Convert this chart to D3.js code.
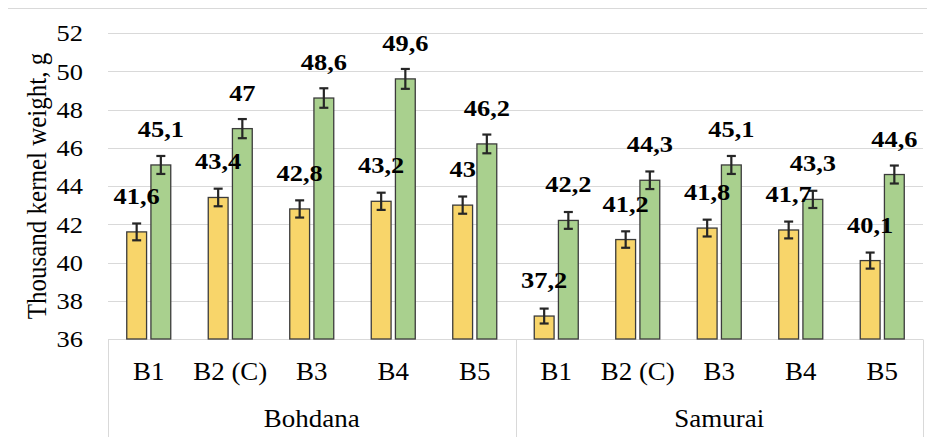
<!DOCTYPE html>
<html>
<head>
<meta charset="utf-8">
<script src="https://cdn.jsdelivr.net/npm/d3@7"></script>
<style>
  html, body { margin: 0; padding: 0; background: #fff; }
  svg { display: block; }
</style>
</head>
<body>
<div id="chart"></div>
<script>
// Chart data
const groups = ['Bohdana', 'Samurai'];
const categories = ['B1', 'B2 (C)', 'B3', 'B4', 'B5'];
const series = ['s1', 's2'];
const colors = ['#f8d56a', '#a9d08e'];

// values per group, in category order
const yellowValues = [[41.6, 43.4, 42.8, 43.2, 43], [37.2, 41.2, 41.8, 41.7, 40.1]];
const greenValues = [[45.1, 47, 48.6, 49.6, 46.2], [42.2, 44.3, 45.1, 43.3, 44.6]];
// error bar half widths (estimated)
const yellowErrors = [[0.44, 0.46, 0.45, 0.45, 0.45], [0.39, 0.43, 0.44, 0.44, 0.42]];
const greenErrors = [[0.47, 0.5, 0.51, 0.52, 0.49], [0.44, 0.46, 0.47, 0.45, 0.47]];

const yTicks = [36, 38, 40, 42, 44, 46, 48, 50, 52];
const yTitle = 'Thousand kernel weight, g';

const FONT = '"Liberation Serif", "Times New Roman", serif';
const SX = 1.1; // the picture is a bit wider than tall

const width = 927, height = 437;
const margin = { top: 33, right: 4, bottom: 98, left: 108 };
const plotW = width - margin.left - margin.right;
const plotH = height - margin.top - margin.bottom;

// flat rows for drawing
const rows = [];
groups.forEach((grp, gi) => {
  categories.forEach((cat, ci) => {
    rows.push({
      key: grp + '|' + cat, group: grp, cat: cat,
      vals: [yellowValues[gi][ci], greenValues[gi][ci]],
      errs: [yellowErrors[gi][ci], greenErrors[gi][ci]]
    });
  });
});

const svg = d3.select('#chart').append('svg')
  .attr('width', width)
  .attr('height', height)
  .style('font-family', FONT);

// outer chart border (top edge visible)
svg.append('line')
  .attr('x1', 8).attr('x2', width).attr('y1', 8.5).attr('y2', 8.5)
  .style('stroke', '#d9d9d9');

const g = svg.append('g')
  .attr('transform', `translate(${margin.left},${margin.top})`);

const xScale = d3.scaleBand()
  .domain(rows.map(d => d.key))
  .range([0, plotW]);

const groupScale = d3.scaleBand()
  .domain(groups)
  .range([0, plotW]);

const yScale = d3.scaleLinear()
  .domain([36, 52])
  .range([plotH, 0]);

const inner = d3.scaleBand()
  .domain(series)
  .range([-22, 22])
  .paddingInner(0.18);

// places a text at (x, y) stretched sideways
function place(sel, fx, fy) {
  sel.attr('transform', (d, i) => `translate(${fx(d, i)},${fy(d, i)}) scale(${SX},1)`);
}

// gridlines
g.append('g').selectAll('line')
  .data(yTicks.slice(1))
  .join('line')
  .attr('x1', 0).attr('x2', plotW)
  .attr('y1', d => Math.round(yScale(d)) + 0.5)
  .attr('y2', d => Math.round(yScale(d)) + 0.5)
  .style('stroke', '#d9d9d9')
  .style('stroke-width', 1);

// y tick labels
g.append('g').selectAll('text')
  .data(yTicks)
  .join('text')
  .call(place, () => -25, d => yScale(d))
  .attr('dy', '0.35em')
  .attr('text-anchor', 'end')
  .style('font-size', '24px')
  .text(d => d);

// y title
g.append('text')
  .attr('transform', `translate(${-62},${plotH / 2}) rotate(-90) scale(1,${SX})`)
  .attr('text-anchor', 'middle')
  .style('font-size', '25px')
  .text(yTitle);

// category axis lines
const axisY = Math.round(yScale(36)) + 0.5;
g.append('line')
  .attr('x1', 0).attr('x2', plotW)
  .attr('y1', axisY).attr('y2', axisY)
  .style('stroke', '#d9d9d9');

const dividers = groups.map(d => groupScale(d)).concat([plotW]);
g.append('g').selectAll('line')
  .data(dividers)
  .join('line')
  .attr('x1', d => Math.round(d) + 0.5).attr('x2', d => Math.round(d) + 0.5)
  .attr('y1', axisY).attr('y2', height)
  .style('stroke', '#d9d9d9');

// category labels
g.append('g').selectAll('text')
  .data(rows)
  .join('text')
  .call(place, d => xScale(d.key) + xScale.bandwidth() / 2, () => plotH + 41)
  .attr('text-anchor', 'middle')
  .style('font-size', '24.5px')
  .text(d => d.cat);

// group labels
g.append('g').selectAll('text')
  .data(groups)
  .join('text')
  .call(place, d => groupScale(d) + groupScale.bandwidth() / 2, () => plotH + 88)
  .attr('text-anchor', 'middle')
  .style('font-size', '24.5px')
  .text(d => d);

// bars
const cat = g.append('g').selectAll('g')
  .data(rows)
  .join('g')
  .attr('transform', d => `translate(${xScale(d.key) + xScale.bandwidth() / 2},0)`);

const items = cat.selectAll('g')
  .data(d => series.map((s, i) => ({ s, i, v: d.vals[i], e: d.errs[i] })))
  .join('g');

items.append('rect')
  .attr('x', d => inner(d.s))
  .attr('width', inner.bandwidth())
  .attr('y', d => yScale(d.v))
  .attr('height', d => yScale(36) - yScale(d.v))
  .style('fill', d => colors[d.i])
  .style('stroke', '#3b3b3b')
  .style('stroke-width', 1.3);

// error bars
const cx = d => inner(d.s) + inner.bandwidth() / 2;
items.append('line')
  .attr('x1', cx).attr('x2', cx)
  .attr('y1', d => yScale(d.v + d.e))
  .attr('y2', d => yScale(d.v - d.e))
  .style('stroke', '#262626')
  .style('stroke-width', 2.2);

items.selectAll('line.cap')
  .data(d => [d.v + d.e, d.v - d.e].map(y => ({ d, y })))
  .join('line')
  .attr('class', 'cap')
  .attr('x1', p => cx(p.d) - 4.5).attr('x2', p => cx(p.d) + 4.5)
  .attr('y1', p => yScale(p.y)).attr('y2', p => yScale(p.y))
  .style('stroke', '#262626')
  .style('stroke-width', 2.2);

// data labels, drawn on top of all bars
const labelData = [];
rows.forEach(r => series.forEach((s, i) => labelData.push({ key: r.key, s, v: r.vals[i] })));

g.append('g').selectAll('text')
  .data(labelData)
  .join('text')
  .call(place, d => xScale(d.key) + xScale.bandwidth() / 2 + cx(d), d => yScale(d.v) - 28)
  .attr('text-anchor', 'middle')
  .style('font-size', '24px')
  .style('font-weight', 'bold')
  .text(d => String(d.v).replace('.', ','));
</script>
</body>
</html>
